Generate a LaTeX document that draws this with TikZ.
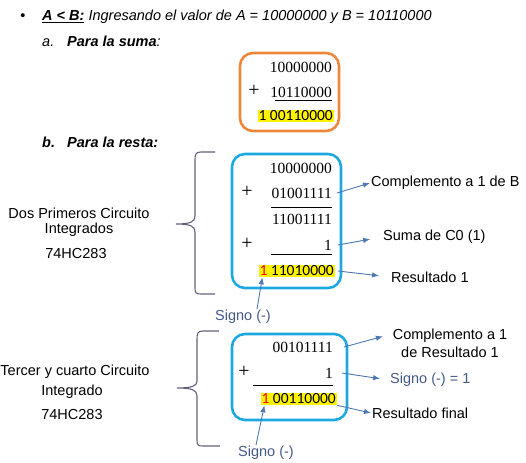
\documentclass[tikz,border=0pt]{standalone}
\usepackage{fontspec}
\usetikzlibrary{arrows.meta}
\newfontfamily\arialfont{Liberation Sans}
\newfontfamily\calfont{Carlito}
\newfontfamily\numfont{Liberation Serif}
\definecolor{boxorange}{RGB}{237,135,60}
\definecolor{boxblue}{RGB}{30,168,224}
\definecolor{arrowblue}{RGB}{79,120,180}
\definecolor{signgray}{RGB}{68,90,135}
\definecolor{bracegray}{RGB}{105,95,125}
\begin{document}
\begin{tikzpicture}[x=1pt, y=-1pt, >={Latex[length=7pt,width=5.5pt]},
    txt/.style={font=\arialfont\fontsize{14.5}{17}\selectfont, inner sep=1pt},
    num/.style={font=\numfont\fontsize{15.5}{18}\selectfont, inner sep=1pt, anchor=east},
    plus/.style={font=\numfont\fontsize{20}{20}\selectfont, inner sep=1pt},
    res/.style={font=\calfont\fontsize{15.5}{18}\selectfont, inner sep=1pt, anchor=east, fill=yellow},
    sgn/.style={txt, text=signgray},
    arr/.style={->, arrowblue, line width=0.9pt},
    bbox/.style={boxblue, line width=2.6pt, rounded corners=13pt},
    brc/.style={bracegray, line width=1.1pt}]
    \useasboundingbox (0,0) rectangle (526,462);

    \node[txt, anchor=base] (bul) at (23,21) {•};
    \node[txt, anchor=base west] (hd) at (41,21) {\textbf{\textit{\underline{A < B:}}} \textit{Ingresando el valor de A = 10000000 y B = 10110000}};
    \node[txt, anchor=base west] (sa) at (41,47) {\textit{a.}};
    \node[txt, anchor=base west] (sb) at (66,47) {\textbf{\textit{Para la suma}}\textit{:}};
    \node[txt, anchor=base west] (ra) at (41,148) {\textbf{\textit{b.}}};
    \node[txt, anchor=base west] (rb) at (66,148) {\textbf{\textit{Para la resta:}}};

    \draw[boxorange, line width=2.6pt, rounded corners=13pt] (240,53) rectangle (339,131);
    \node[num] (s1) at (333,67) {10000000};
    \node[plus] (sp) at (254,91) {+};
    \node[num] (s2) at (333,92) {10110000};
    \draw[line width=0.8pt] (275,100) -- (332,100);
    \node[res] (s3) at (334,116) {1 00110000};

    \draw[bbox] (232,154) rectangle (341,288);
    \node[num] (b1r1) at (333,168) {10000000};
    \node[plus] (b1p1) at (247,192) {+};
    \node[num] (b1r2) at (333,193) {01001111};
    \draw[line width=0.8pt] (271,207) -- (332,207);
    \node[num] (b1r3) at (333,219) {11001111};
    \node[plus] (b1p2) at (247,244) {+};
    \node[num] (b1r4) at (333,245) {1};
    \draw[line width=0.8pt] (271,254) -- (332,254);
    \node[res] (b1r5) at (335,271) {\textcolor{red}{1} 11010000};

    \draw[brc] (215,152) -- (201,152) .. controls (196,152) and (195,154) .. (195,160) -- (195,216)
        .. controls (195,222) and (190,224) .. (176,224) .. controls (190,224) and (195,226) .. (195,232)
        -- (195,288) .. controls (195,293) and (196,294) .. (201,294) -- (215,294);

    \node[txt] (g1a) at (79,213) {Dos Primeros Circuito};
    \node[txt] (g1b) at (79,230) {Integrados};
    \node[txt] (g1c) at (76,254) {74HC283};

    \node[txt, anchor=west] (cb) at (370,183) {Complemento a 1 de B};
    \node[txt, anchor=west] (sc) at (382,237) {Suma de C0 (1)};
    \node[txt, anchor=west] (r1) at (390,277) {Resultado 1};
    \node[sgn] (sg1) at (243,317) {Signo (-)};

    \draw[arr] ([xshift=4pt]b1r2.east) -- (cb.west);
    \draw[arr, shorten >=12pt] ([xshift=5pt]b1r4.east) -- (sc.west);
    \draw[arr, shorten >=11pt] ([xshift=3pt]b1r5.east) -- (r1.west);
    \draw[arr] ([xshift=14pt]sg1.north) -- ([xshift=4pt]b1r5.south west);

    \draw[bbox] (232,334) rectangle (347,420);
    \node[num] (b2r1) at (334,347) {00101111};
    \node[plus] (b2p) at (244,372) {+};
    \node[num] (b2r2) at (334,373) {1};
    \draw[line width=0.8pt] (253,385) -- (333,385);
    \node[res] (b2r3) at (337,399) {\textcolor{red}{1} 00110000};

    \draw[brc] (219,331) -- (203,331) .. controls (198,331) and (197,333) .. (197,339) -- (197,381)
        .. controls (197,386) and (192,388) .. (177,388) .. controls (192,388) and (197,390) .. (197,396)
        -- (197,440) .. controls (197,445) and (198,446) .. (203,446) -- (220,446);

    \node[txt] (g2a) at (75,372) {Tercer y cuarto Circuito};
    \node[txt] (g2b) at (72,392) {Integrado};
    \node[txt] (g2c) at (72,415) {74HC283};

    \node[txt, align=center] (cr) at (450,343) {Complemento a 1\\[1pt]de Resultado 1};
    \node[sgn, anchor=west] (s1e) at (389,380) {Signo (-) = 1};
    \node[txt, anchor=west] (rf) at (371,413) {Resultado final};
    \node[sgn] (sg2) at (266,453) {Signo (-)};

    \draw[arr, shorten >=9pt] ([xshift=10pt]b2r1.east) -- ([yshift=9pt]cr.west);
    \draw[arr, shorten >=9pt] ([xshift=8pt]b2r2.east) -- (s1e.west);
    \draw[arr] (b2r3.south east) -- (rf.west);
    \draw[arr] ([xshift=-10pt]sg2.north) -- ([xshift=4pt]b2r3.south west);
\end{tikzpicture}
\end{document}
